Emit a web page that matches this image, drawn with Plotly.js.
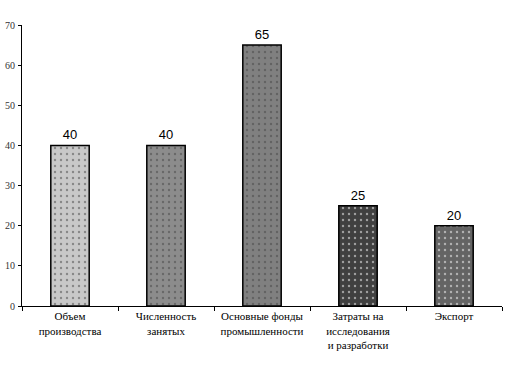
<!DOCTYPE html>
<html><head><meta charset="utf-8">
<script src="https://cdn.plot.ly/plotly-3.0.1.min.js"></script>
<style>html,body{margin:0;padding:0;background:#fff}#c{width:505px;height:376px}
#c .xtick text, #c .ytick text{font-family:"Liberation Serif","DejaVu Serif",serif !important}
</style>
</head><body><div id="c"></div>
<script>
const categories = ["Объем<br>производства", "Численность<br>занятых", "Основные фонды<br>промышленности", "Затраты на<br>исследования<br>и разработки", "Экспорт"];
const values = [40, 40, 65, 25, 20];
const barColors = ["#c8c8c8", "#8c8c8c", "#808080", "#404040", "#646464"];
const dotColors = ["#f4f4f4", "#a8a8a8", "#9c9c9c", "#5c5c5c", "#8c8c8c"];
const yTicks = [0, 10, 20, 30, 40, 50, 60, 70];
const serif = "DejaVu Serif";

Plotly.newPlot("c", [{
  type: "bar",
  x: categories,
  y: values,
  width: 0.4,
  text: values.map(String),
  textposition: "outside",
  cliponaxis: false,
  textfont: {family: "Liberation Sans", size: 13, color: "#000"},
  marker: {
    color: barColors,
    line: {color: "#000", width: 1.5},
    pattern: {shape: ".", fgcolor: dotColors, size: 6, solidity: 0.12, fillmode: "overlay"}
  },
  hoverinfo: "none"
}], {
  width: 505, height: 376,
  font: {family: serif, size: 11, color: "#000"},
  margin: {l: 22, r: 3, t: 25, b: 70},
  paper_bgcolor: "#fff", plot_bgcolor: "#fff",
  showlegend: false,
  xaxis: {
    type: "category",
    tickson: "boundaries",
    ticks: "outside", ticklen: 4, tickcolor: "#000",
    showline: true, linecolor: "#000", linewidth: 1,
    showgrid: false, zeroline: false,
    tickfont: {family: serif, size: 11, color: "#000"},
    tickangle: 0
  },
  yaxis: {
    range: [0, 70],
    tickvals: yTicks,
    ticktext: yTicks.map(String),
    ticks: "outside", ticklen: 3, tickcolor: "#000",
    showline: true, linecolor: "#000", linewidth: 1,
    showgrid: false, zeroline: false,
    tickfont: {family: serif, size: 10, color: "#333"},
    ticklabelstandoff: 1
  }
}, {staticPlot: true, displayModeBar: false});
</script></body></html>
